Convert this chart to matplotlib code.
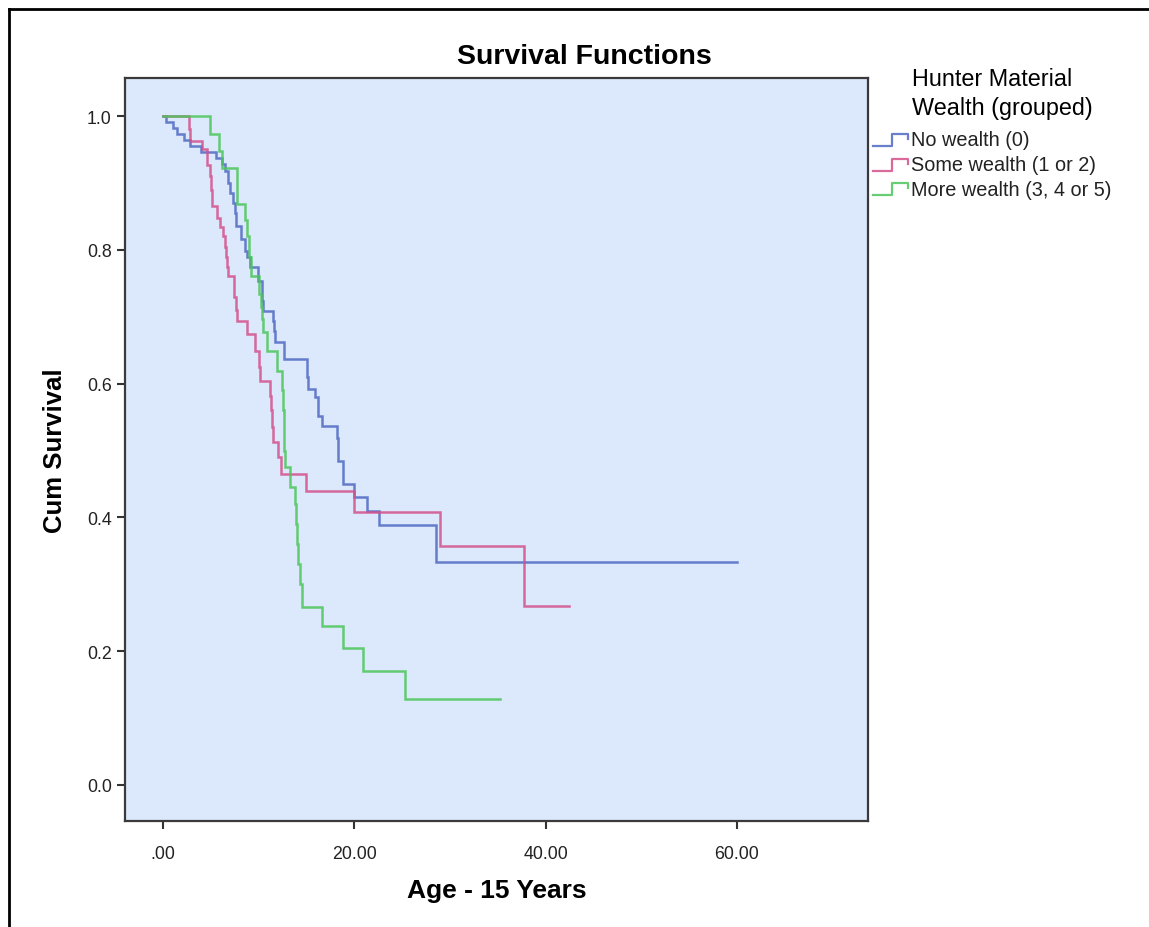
import numpy as np
import matplotlib
matplotlib.use('Agg')
import matplotlib.pyplot as plt
from matplotlib.lines import Line2D

plt.rcParams['font.family'] = ['Liberation Sans', 'DejaVu Sans']

# Kaplan-Meier steps: (event time, survival after the drop)
no_t = [0, 0.3, 1.0, 1.5, 2.2, 2.8, 4.0, 5.5, 6.2, 6.5, 6.8, 7.0, 7.3, 7.5, 7.6,
        8.2, 8.6, 8.75, 9.1, 9.95, 10.3, 10.4, 10.5, 11.5, 11.6, 11.7, 12.6,
        15.1, 15.2, 15.9, 16.2, 16.6, 18.15, 18.3, 18.8, 20.0, 21.3, 22.6, 28.5]
no_s = [1.0, 0.991, 0.982, 0.973, 0.964, 0.955, 0.946, 0.937, 0.928, 0.918, 0.90, 0.885, 0.87, 0.855, 0.836,
        0.816, 0.799, 0.789, 0.774, 0.754, 0.739, 0.724, 0.709, 0.694, 0.678, 0.662, 0.637,
        0.61, 0.592, 0.58, 0.552, 0.537, 0.518, 0.485, 0.45, 0.43, 0.41, 0.389, 0.334]
no_end = 60.0

some_t = [0, 2.75, 2.8, 4.1, 4.6, 4.95, 5.05, 5.15, 5.6, 5.95, 6.3, 6.5, 6.6, 6.7, 6.8,
          7.4, 7.6, 7.7, 8.75, 9.6, 10.0, 10.15, 11.2, 11.3, 11.4, 11.5, 12.05, 12.3,
          14.9, 20.0, 29.0, 37.7]
some_s = [1.0, 0.98, 0.963, 0.951, 0.927, 0.91, 0.89, 0.866, 0.848, 0.834, 0.82, 0.804, 0.79, 0.775, 0.761,
          0.73, 0.71, 0.694, 0.674, 0.649, 0.625, 0.604, 0.582, 0.56, 0.535, 0.512, 0.49, 0.465,
          0.44, 0.408, 0.357, 0.268]
some_end = 42.4

more_t = [0, 4.9, 5.9, 6.2, 7.7, 8.6, 8.8, 9.0, 9.2, 10.0, 10.2, 10.35, 10.5, 10.9, 11.9,
          12.4, 12.5, 12.6, 12.7, 12.8, 13.3, 13.8, 13.9, 14.0, 14.1, 14.3, 14.5,
          16.6, 18.85, 20.94, 25.3]
more_s = [1.0, 0.973, 0.948, 0.923, 0.868, 0.845, 0.82, 0.79, 0.761, 0.734, 0.715, 0.696, 0.677, 0.649, 0.619,
          0.59, 0.56, 0.53, 0.50, 0.475, 0.445, 0.42, 0.39, 0.36, 0.33, 0.30, 0.2665,
          0.238, 0.204, 0.171, 0.1286]
more_end = 35.2

groups = ['No wealth (0)', 'Some wealth (1 or 2)', 'More wealth (3, 4 or 5)']
colors = ['#5069c2', '#d3508a', '#4cc65a']
series = [(no_t, no_s, no_end), (some_t, some_s, some_end), (more_t, more_s, more_end)]

y_ticks = [0.0, 0.2, 0.4, 0.6, 0.8, 1.0]
x_ticks = [0, 20, 40, 60]
x_ticklabels = ['.00', '20.00', '40.00', '60.00']

W, H = 1149, 928
fig = plt.figure(figsize=(W / 100, H / 100), dpi=100)
ax = fig.add_axes([125 / W, 1 - 822 / H, (868 - 125) / W, (822 - 79) / H])
ax.set_facecolor('#dce9fc')

for (t, s, end), c, name in zip(series, colors, groups):
    tt = list(t) + [end]
    ss = list(s) + [s[-1]]
    ax.step(tt, ss, where='post', color=c, lw=1.8, alpha=0.85, label=name,
            solid_joinstyle='miter')

ax.set_xlim(-3.97, 73.7)
ax.set_ylim(-0.054, 1.057)
ax.set_yticks(y_ticks)
ax.set_yticklabels([f'{v:.1f}' for v in y_ticks])
ax.set_xticks(x_ticks)
ax.set_xticklabels(x_ticklabels)
ax.tick_params(direction='out', length=6, width=1.5, color='#333333',
               labelsize=12.8, labelcolor='#222222')
ax.tick_params(axis='x', pad=11)
for sp in ax.spines.values():
    sp.set_color('#3a3a3a')
    sp.set_linewidth(1.6)

ax.set_xlabel('Age - 15 Years', fontsize=19, fontweight='bold', labelpad=12)
ax.set_ylabel('Cum Survival', fontsize=18.5, fontweight='bold', labelpad=14)
fig.text(584 / W, 1 - 57 / H, 'Survival Functions', fontsize=20.5, fontweight='bold',
         ha='center', va='center')

# legend drawn by hand, SPSS style, outside the plot
fig.text(912 / W, 1 - 80 / H, 'Hunter Material', fontsize=16.8, ha='left', va='center')
fig.text(912 / W, 1 - 109 / H, 'Wealth (grouped)', fontsize=16.8, ha='left', va='center')
for i, (name, c) in enumerate(zip(groups, colors)):
    yc = 141 + i * 24.5
    xs = np.array([873, 892, 892, 908, 908]) / W
    ys = 1 - np.array([yc + 6, yc + 6, yc - 6, yc - 6, yc - 1]) / H
    fig.add_artist(Line2D(xs, ys, color=c, lw=1.6, alpha=0.85))
    fig.text(911 / W, 1 - yc / H, name, fontsize=14.3, ha='left', va='center', color='#222222')

# outer frame (left and top edges visible)
fig.add_artist(Line2D([9 / W, 9 / W], [0, 1 - 10 / H], color='black', lw=2))
fig.add_artist(Line2D([9 / W, 1], [1 - 10 / H, 1 - 10 / H], color='black', lw=2))

fig.savefig('out.png', dpi=100)
